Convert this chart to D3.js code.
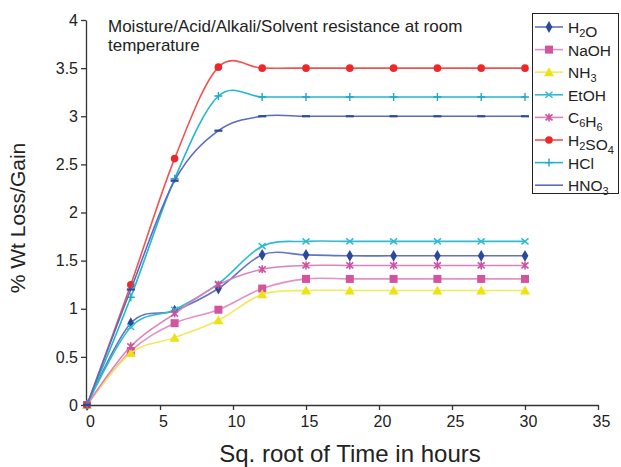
<!DOCTYPE html>
<html>
<head>
<meta charset="utf-8">
<script src="https://cdn.jsdelivr.net/npm/d3@7"></script>
<style>
  body { margin: 0; background: #fff; }
  text { font-family: "Liberation Sans", Arial, sans-serif; fill: #222; }
</style>
</head>
<body>
<div id="chart"></div>
<script>
const width = 621;
const height = 467;

// sqrt(time) sampling points
const times = [0, 3, 6, 9, 12, 15, 18, 21, 24, 27, 30];

// % weight change for each medium
const h2o   = [0, 0.85, 0.98, 1.21, 1.56, 1.56, 1.55, 1.55, 1.55, 1.55, 1.55];
const naoh  = [0, 0.56, 0.85, 0.99, 1.21, 1.31, 1.31, 1.31, 1.31, 1.31, 1.31];
const nh3   = [0, 0.54, 0.70, 0.88, 1.15, 1.19, 1.19, 1.19, 1.19, 1.19, 1.19];
const etoh  = [0, 0.81, 0.99, 1.26, 1.65, 1.70, 1.70, 1.70, 1.70, 1.70, 1.70];
const c6h6  = [0, 0.61, 0.95, 1.25, 1.41, 1.45, 1.45, 1.45, 1.45, 1.45, 1.45];
const h2so4 = [0, 1.25, 2.56, 3.51, 3.50, 3.50, 3.50, 3.50, 3.50, 3.50, 3.50];
const hcl   = [0, 1.12, 2.35, 3.21, 3.20, 3.20, 3.20, 3.20, 3.20, 3.20, 3.20];
const hno3  = [0, 1.20, 2.33, 2.85, 3.00, 3.00, 3.00, 3.00, 3.00, 3.00, 3.00];

const xTicks = [0, 5, 10, 15, 20, 25, 30, 35];
const yTicks = [0, 0.5, 1, 1.5, 2, 2.5, 3, 3.5, 4];

// name parts: [text, isSubscript]
const series = [
  { name: [["H", 0], ["2", 1], ["O", 0]], values: h2o, line: "#6373c2", mark: "#2c479f", shape: "diamond" },
  { name: [["NaOH", 0]], values: naoh, line: "#e291c6", mark: "#d4539d", shape: "square" },
  { name: [["NH", 0], ["3", 1]], values: nh3, line: "#f1ea5a", mark: "#eee212", shape: "triangle" },
  { name: [["EtOH", 0]], values: etoh, line: "#2fbccf", mark: "#2fbccf", shape: "x" },
  { name: [["C", 0], ["6", 1], ["H", 0], ["6", 1]], values: c6h6, line: "#df80bb", mark: "#d0509f", shape: "star" },
  { name: [["H", 0], ["2", 1], ["SO", 0], ["4", 1]], values: h2so4, line: "#f15353", mark: "#ec2828", shape: "circle" },
  { name: [["HCl", 0]], values: hcl, line: "#22b6cf", mark: "#1aa9c6", shape: "plus" },
  { name: [["HNO", 0], ["3", 1]], values: hno3, line: "#5a6bc0", mark: "#2c479f", shape: "dash" }
];

const svg = d3.select("#chart").append("svg")
  .attr("width", width)
  .attr("height", height);

const x = d3.scaleLinear().domain([0, 35]).range([87, 598]);
const y = d3.scaleLinear().domain([0, 4]).range([405, 20]);

// axes
const xAxis = svg.append("g")
  .attr("transform", `translate(0,${y(0)})`)
  .call(d3.axisBottom(x).tickValues(xTicks).tickSize(5).tickSizeOuter(0).tickPadding(6));
const yAxis = svg.append("g")
  .attr("transform", `translate(${x(0) - 1},0)`)
  .call(d3.axisLeft(y).tickValues(yTicks).tickSize(5).tickSizeOuter(0).tickPadding(3)
    .tickFormat(d => d));

[xAxis, yAxis].forEach(a => {
  a.select(".domain").attr("stroke", "#333").attr("stroke-width", 1.3);
  a.selectAll(".tick line").attr("stroke", "#333").attr("stroke-width", 1.3);
  a.selectAll(".tick text")
    .attr("fill", "#222")
    .style("font-size", "16px")
    .style("font-family", "'Liberation Sans', Arial, sans-serif");
});
xAxis.selectAll(".tick text").attr("dx", 3);

// markers
function drawMarker(g, shape, color) {
  if (shape === "diamond") {
    g.append("path").attr("d", d3.symbol(d3.symbolDiamond, 40)()).attr("fill", color);
  } else if (shape === "square") {
    g.append("rect").attr("x", -4).attr("y", -4).attr("width", 8).attr("height", 8).attr("fill", color);
  } else if (shape === "triangle") {
    g.append("path").attr("d", "M0,-5L5,4L-5,4Z").attr("fill", color);
  } else if (shape === "circle") {
    g.append("circle").attr("r", 3.8).attr("fill", color);
  } else if (shape === "x") {
    g.append("path").attr("d", "M-3.5,-3L3.5,3M-3.5,3L3.5,-3")
      .attr("stroke", color).attr("stroke-width", 1.5).attr("fill", "none");
  } else if (shape === "star") {
    g.append("path").attr("d", "M-3.5,-3L3.5,3M-3.5,3L3.5,-3M0,-4L0,4")
      .attr("stroke", color).attr("stroke-width", 1.6).attr("fill", "none");
  } else if (shape === "plus") {
    g.append("path").attr("d", "M-4,0L4,0M0,-4L0,4")
      .attr("stroke", color).attr("stroke-width", 1.4).attr("fill", "none");
  } else if (shape === "dash") {
    g.append("path").attr("d", "M-4,0L4,0")
      .attr("stroke", color).attr("stroke-width", 2.2).attr("fill", "none");
  }
}

const line = d3.line()
  .x((d, i) => x(times[i]))
  .y(d => y(d))
  .curve(d3.curveCardinal.tension(0));

const plot = svg.append("g");
series.forEach(s => {
  plot.append("path")
    .attr("d", line(s.values))
    .attr("fill", "none")
    .attr("stroke", s.line)
    .attr("stroke-width", 1.6);
  s.values.forEach((v, i) => {
    const g = plot.append("g").attr("transform", `translate(${x(times[i])},${y(v)})`);
    drawMarker(g, s.shape, s.mark);
  });
});

// title inside plot
const title = svg.append("text").attr("x", 108).attr("y", 32).style("font-size", "17px");
title.append("tspan").attr("x", 108).text("Moisture/Acid/Alkali/Solvent resistance at room");
title.append("tspan").attr("x", 108).attr("dy", 19).text("temperature");

// legend
const legend = svg.append("g");
legend.append("rect")
  .attr("x", 532.5).attr("y", 13.5).attr("width", 86).attr("height", 180)
  .attr("fill", "#fff").attr("stroke", "#222").attr("stroke-width", 1);

series.forEach((s, i) => {
  const ly = 27 + i * 22.6;
  const g = legend.append("g").attr("transform", `translate(0,${ly})`);
  g.append("line").attr("x1", 535).attr("x2", 563).attr("y1", 0).attr("y2", 0)
    .attr("stroke", s.line).attr("stroke-width", 1.6);
  if (s.shape !== "dash") {
    const m = g.append("g").attr("transform", "translate(549,0)");
    drawMarker(m, s.shape, s.mark);
  }
  const t = g.append("text").attr("x", 568).attr("y", 6).style("font-size", "15.5px");
  s.name.forEach(([txt, sub]) => {
    if (sub) {
      t.append("tspan").attr("dy", 4).style("font-size", "11px").text(txt);
      t.append("tspan").attr("dy", -4).text("");
    } else {
      t.append("tspan").text(txt);
    }
  });
});

// axis titles
svg.append("text")
  .attr("x", 350).attr("y", 462)
  .attr("text-anchor", "middle")
  .style("font-size", "24px")
  .text("Sq. root of Time in hours");

svg.append("text")
  .attr("transform", "translate(25,218) rotate(-90)")
  .attr("text-anchor", "middle")
  .style("font-size", "21px")
  .text("% Wt Loss/Gain");
</script>
</body>
</html>
